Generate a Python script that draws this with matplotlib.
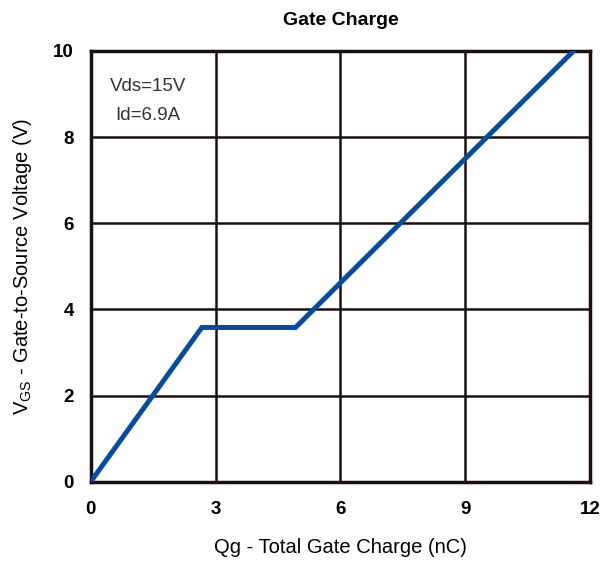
import matplotlib
matplotlib.use("Agg")
import matplotlib.pyplot as plt

plt.rcParams['font.family'] = ['Liberation Sans', 'DejaVu Sans']

# Gate charge curve
qg = [0, 2.67, 4.92, 11.6]
vgs = [0, 3.58, 3.58, 10]

x_ticks = [0, 3, 6, 9, 12]
y_ticks = [0, 2, 4, 6, 8, 10]

fig = plt.figure(figsize=(6.01, 5.66), dpi=100)
ax = fig.add_axes([0.151, 0.149, 0.831, 0.761])

ax.plot(qg, vgs, color='#0a4c9c', linewidth=3.6, solid_joinstyle='miter', zorder=3)

ax.set_xlim(0, 12)
ax.set_ylim(0, 10)
ax.set_xticks(x_ticks)
ax.set_yticks(y_ticks)
ax.grid(True, color='#1a1010', linewidth=1.8)
ax.tick_params(length=0, labelsize=13.5)
ax.tick_params(axis='x', pad=14)
ax.tick_params(axis='y', pad=12)
for lab in ax.get_xticklabels() + ax.get_yticklabels():
    lab.set_fontweight('bold')
for s in ax.spines.values():
    s.set_linewidth(2.5)
    s.set_color('#1a1010')

ax.text(1.38, 9.18, 'Vds=15V', fontsize=13.5, color='#333333', ha='center', va='center')
ax.text(1.38, 8.5, 'Id=6.9A', fontsize=13.5, color='#333333', ha='center', va='center')

ax.set_title('Gate Charge', fontsize=14, fontweight='bold', pad=19)
ax.set_xlabel('Qg - Total Gate Charge (nC)', fontsize=14.5, labelpad=14)
ax.set_ylabel('V$_{\\mathregular{GS}}$ - Gate-to-Source Voltage (V)', fontsize=14.5, labelpad=14)

fig.savefig('out.png', dpi=100)
